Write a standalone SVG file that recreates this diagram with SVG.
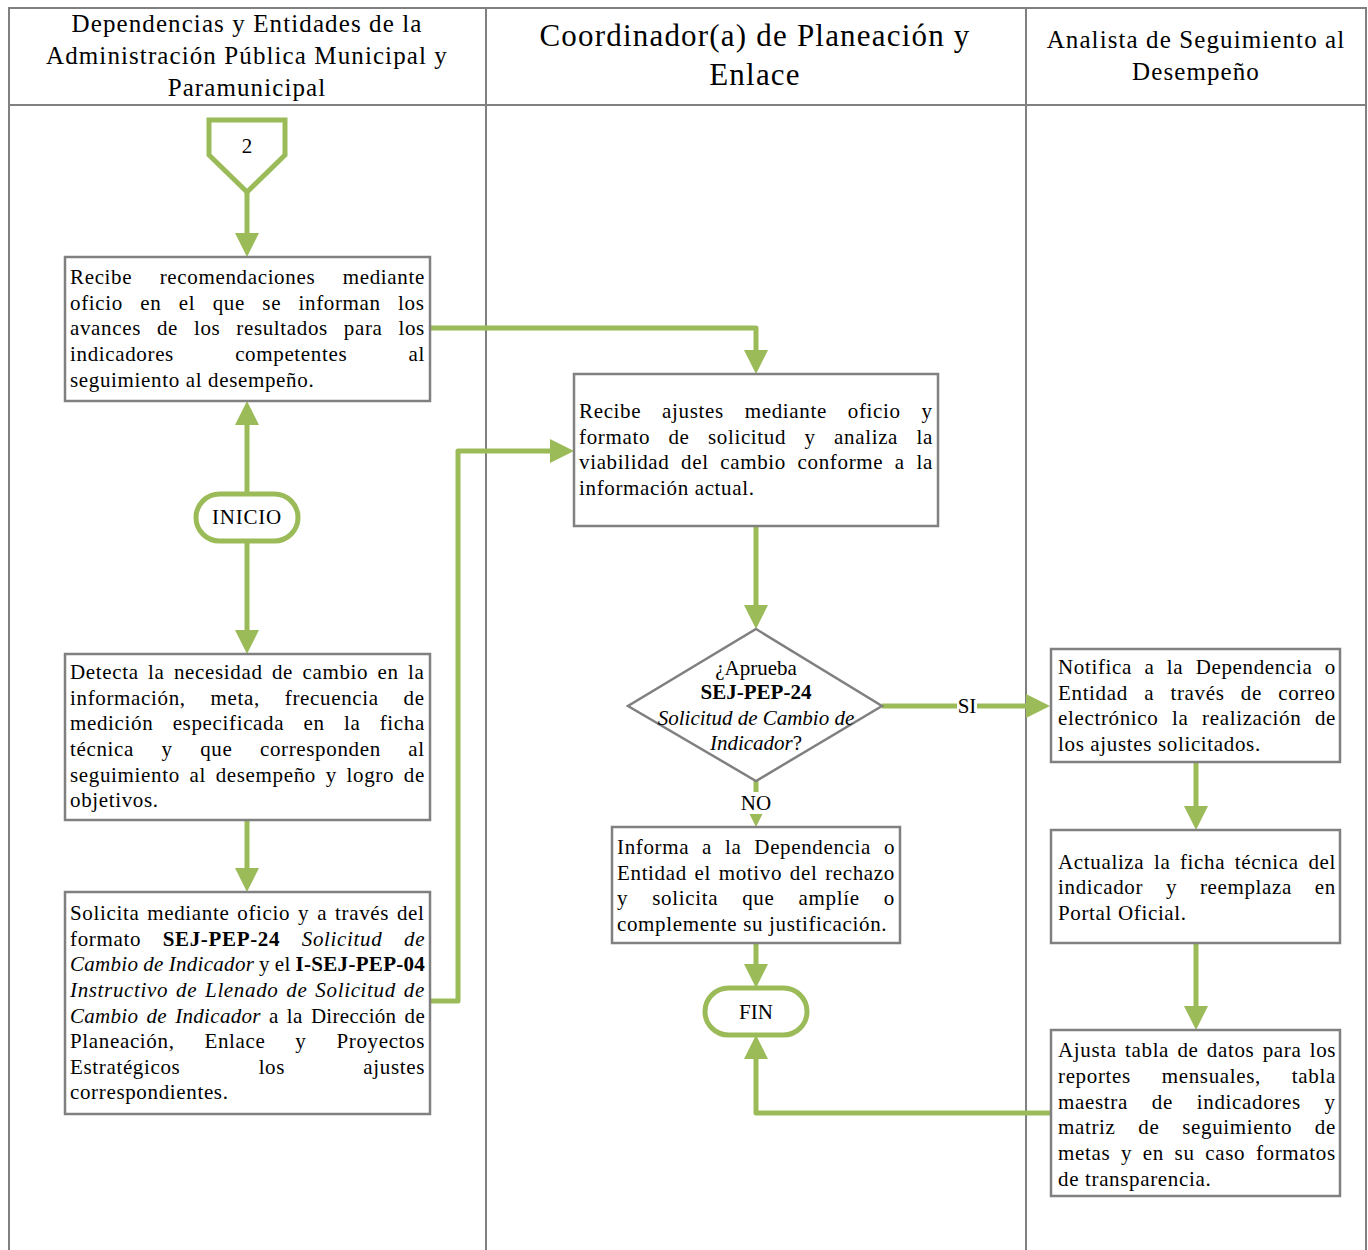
<svg xmlns="http://www.w3.org/2000/svg" width="1368" height="1250" viewBox="0 0 1368 1250">
<style>
.lane{fill:none;stroke:#808080;stroke-width:2}
.box{fill:#fff;stroke:#808080;stroke-width:2.5}
.dia{fill:#fff;stroke:#808080;stroke-width:2.5}
.term{fill:#fff;stroke:#9bbb59;stroke-width:5}
.con{fill:none;stroke:#9bbb59;stroke-width:5;stroke-linejoin:round}
text{font-family:"Liberation Serif","DejaVu Serif",serif;fill:#000}
.t{font-size:21px}
.j{font-size:21px;letter-spacing:0.65px}
.h1{font-size:25px;letter-spacing:1.1px;text-anchor:middle}
.h2{font-size:31px;letter-spacing:1.2px;text-anchor:middle}
.c{text-anchor:middle}
.b{font-weight:bold}
.i{font-style:italic}
</style>
<defs>
<marker id="ah" markerUnits="userSpaceOnUse" markerWidth="24" markerHeight="24" refX="12" refY="12" orient="auto" viewBox="0 0 24 24">
<path d="M0,0 L24,12 L0,24 Z" fill="#9bbb59"/>
</marker>
</defs>

<g id="lanes">
<rect class="lane" x="9" y="8" width="1357" height="1250"/>
<line class="lane" x1="9" y1="105" x2="1366" y2="105"/>
<line class="lane" x1="486" y1="8" x2="486" y2="1250"/>
<line class="lane" x1="1026" y1="8" x2="1026" y2="1250"/>
<text class="h1" x="247" y="32">Dependencias y Entidades de la</text>
<text class="h1" x="247" y="64">Administración Pública Municipal y</text>
<text class="h1" x="247" y="96">Paramunicipal</text>
<text class="h2" x="755" y="46">Coordinador(a) de Planeación y</text>
<text class="h2" x="755" y="85">Enlace</text>
<text class="h1" x="1196" y="48">Analista de Seguimiento al</text>
<text class="h1" x="1196" y="80">Desempeño</text>
</g>

<g id="connectors">
<path class="con" d="M247,192 V245" marker-end="url(#ah)"/>
<path class="con" d="M247,494 V413" marker-end="url(#ah)"/>
<path class="con" d="M247,541 V642" marker-end="url(#ah)"/>
<path class="con" d="M247,820 V880" marker-end="url(#ah)"/>
<path class="con" d="M430,328 H756 V362" marker-end="url(#ah)"/>
<path class="con" d="M430,1001 H458 V451 H562" marker-end="url(#ah)"/>
<path class="con" d="M756,526 V617" marker-end="url(#ah)"/>
<path class="con" d="M882,706 H1038" marker-end="url(#ah)"/>
<path class="con" d="M756,781 V815" marker-end="url(#ah)"/>
<path class="con" d="M756,943 V976" marker-end="url(#ah)"/>
<path class="con" d="M1050,1113 H756 V1047" marker-end="url(#ah)"/>
<path class="con" d="M1196,762 V818" marker-end="url(#ah)"/>
<path class="con" d="M1196,943 V1018" marker-end="url(#ah)"/>
<rect x="957" y="694" width="20" height="24" fill="#fff"/>
<text class="t c" x="967" y="713">SI</text>
<rect x="740" y="792" width="32" height="22" fill="#fff"/>
<text class="t c" x="756" y="810">NO</text>
</g>

<g id="offpage2">
<polygon class="term" points="209,120 285,120 285,155 247,192 209,155"/>
<text class="t c" x="247" y="153">2</text>
</g>

<g id="inicio">
<rect class="term" x="196" y="494" width="102" height="47" rx="23.5"/>
<text class="t c" x="247" y="524" style="letter-spacing:0.8px">INICIO</text>
</g>

<g id="fin">
<rect class="term" x="705" y="988" width="102" height="47" rx="23.5"/>
<text class="t c" x="756" y="1019">FIN</text>
</g>

<g id="box1">
<rect class="box" x="65" y="257" width="365" height="144"/>
<text class="j" x="70" y="284" style="word-spacing:21.6px">Recibe recomendaciones mediante</text>
<text class="j" x="70" y="310" style="word-spacing:11.5px">oficio en el que se informan los</text>
<text class="j" x="70" y="335" style="word-spacing:10px">avances de los resultados para los</text>
<text class="j" x="70" y="361" style="word-spacing:55.3px">indicadores competentes al</text>
<text class="j" x="70" y="387">seguimiento al desempeño.</text>
</g>

<g id="box2">
<rect class="box" x="65" y="654" width="365" height="166"/>
<text class="j" x="70" y="679" style="word-spacing:3.5px">Detecta la necesidad de cambio en la</text>
<text class="j" x="70" y="705" style="word-spacing:19px">información, meta, frecuencia de</text>
<text class="j" x="70" y="730" style="word-spacing:13.4px">medición especificada en la ficha</text>
<text class="j" x="70" y="756" style="word-spacing:21.6px">técnica y que corresponden al</text>
<text class="j" x="70" y="782" style="word-spacing:3.8px">seguimiento al desempeño y logro de</text>
<text class="j" x="70" y="807">objetivos.</text>
</g>

<g id="box3">
<rect class="box" x="65" y="892" width="365" height="222"/>
<text class="j" x="70" y="920" style="word-spacing:2px">Solicita mediante oficio y a través del</text>
<text class="j" x="70" y="946" style="word-spacing:15.8px">formato <tspan class="b">SEJ-PEP-24</tspan> <tspan class="i">Solicitud de</tspan></text>
<text class="t" x="70" y="971" style="letter-spacing:0.3px;word-spacing:-0.6px"><tspan class="i">Cambio de Indicador</tspan> y el <tspan class="b">I-SEJ-PEP-04</tspan></text>
<text class="j i" x="70" y="997" style="word-spacing:2px">Instructivo de Llenado de Solicitud de</text>
<text class="t" x="70" y="1023" style="letter-spacing:0.3px;word-spacing:2.7px"><tspan class="i">Cambio de Indicador</tspan> a la Dirección de</text>
<text class="j" x="70" y="1048" style="word-spacing:24px">Planeación, Enlace y Proyectos</text>
<text class="j" x="70" y="1074" style="word-spacing:72.3px">Estratégicos los ajustes</text>
<text class="j" x="70" y="1099">correspondientes.</text>
</g>

<g id="box4">
<rect class="box" x="574" y="374" width="364" height="152"/>
<text class="j" x="579" y="418" style="word-spacing:15px">Recibe ajustes mediante oficio y</text>
<text class="j" x="579" y="444" style="word-spacing:12.5px">formato de solicitud y analiza la</text>
<text class="j" x="579" y="469" style="word-spacing:5.7px">viabilidad del cambio conforme a la</text>
<text class="j" x="579" y="495">información actual.</text>
</g>

<g id="decision">
<polygon class="dia" points="756,629 882,706 756,781 628,706"/>
<text class="t c" x="756" y="675">¿Aprueba</text>
<text class="t c b" x="756" y="699">SEJ-PEP-24</text>
<text class="t c i" x="756" y="725">Solicitud de Cambio de</text>
<text class="t c" x="756" y="750"><tspan class="i">Indicador</tspan>?</text>
</g>

<g id="box5">
<rect class="box" x="612" y="827" width="288" height="116"/>
<text class="j" x="617" y="854" style="word-spacing:7px">Informa a la Dependencia o</text>
<text class="j" x="617" y="880" style="word-spacing:1.8px">Entidad el motivo del rechazo</text>
<text class="j" x="617" y="905" style="word-spacing:18.2px">y solicita que amplíe o</text>
<text class="j" x="617" y="931">complemente su justificación.</text>
</g>

<g id="box6">
<rect class="box" x="1051" y="649" width="289" height="113"/>
<text class="j" x="1058" y="674" style="word-spacing:6.5px">Notifica a la Dependencia o</text>
<text class="j" x="1058" y="700" style="word-spacing:10.4px">Entidad a través de correo</text>
<text class="j" x="1058" y="725" style="word-spacing:7.7px">electrónico la realización de</text>
<text class="j" x="1058" y="751">los ajustes solicitados.</text>
</g>

<g id="box7">
<rect class="box" x="1051" y="830" width="289" height="113"/>
<text class="j" x="1058" y="869" style="word-spacing:3.7px">Actualiza la ficha técnica del</text>
<text class="j" x="1058" y="894" style="word-spacing:16.9px">indicador y reemplaza en</text>
<text class="j" x="1058" y="920">Portal Oficial.</text>
</g>

<g id="box8">
<rect class="box" x="1051" y="1030" width="289" height="166"/>
<text class="j" x="1058" y="1057" style="word-spacing:2.4px">Ajusta tabla de datos para los</text>
<text class="j" x="1058" y="1083" style="word-spacing:25px">reportes mensuales, tabla</text>
<text class="j" x="1058" y="1109" style="word-spacing:18px">maestra de indicadores y</text>
<text class="j" x="1058" y="1134" style="word-spacing:16.9px">matriz de seguimiento de</text>
<text class="j" x="1058" y="1160" style="word-spacing:4.8px">metas y en su caso formatos</text>
<text class="j" x="1058" y="1186">de transparencia.</text>
</g>
</svg>
